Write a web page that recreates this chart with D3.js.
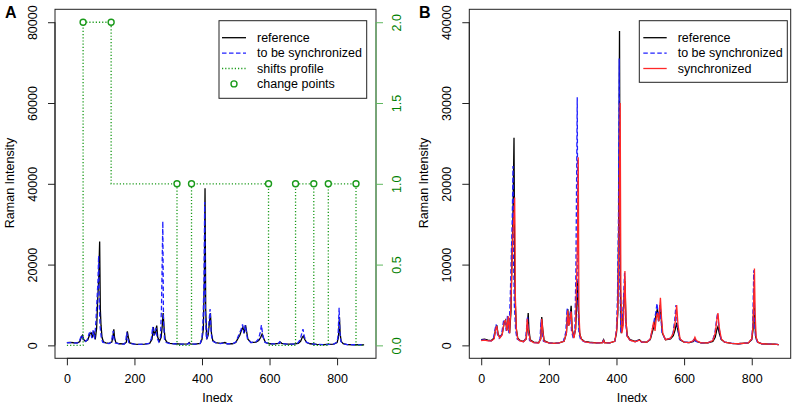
<!DOCTYPE html>
<html>
<head>
<meta charset="utf-8">
<script src="https://cdn.jsdelivr.net/npm/d3@7"></script>
<style>
  body { margin: 0; background: #fff; }
  svg text { font-family: "Liberation Sans", Arial, sans-serif; }
</style>
</head>
<body>
<svg id="chart" width="794" height="406"></svg>
<script>
// spectra: [index, intensity]
const reference = [
  [0,700],[10,760],[20,650],[30,600],[38,900],[43,2100],[46,2500],[50,1400],[55,1000],[62,1400],
  [68,2800],[72,3100],[76,1900],[80,3500],[84,1500],[88,4200],[91,11000],[94,16000],[97,25700],[99,9000],
  [101,5000],[104,2000],[108,900],[115,600],[125,500],[133,800],[136,2000],[139,4000],[141,2000],[145,700],
  [155,400],[170,350],[176,800],[179,3500],[182,2000],[186,600],[200,300],[215,250],[230,300],[245,500],
  [252,1500],[256,4500],[259,2500],[263,3500],[266,4900],[269,2000],[274,1000],[279,2000],[282,4500],[285,8000],
  [288,4000],[291,1500],[296,800],[305,500],[320,400],[340,300],[358,350],[362,700],[365,350],[380,300],
  [395,500],[400,1500],[404,4000],[407,17000],[409,38900],[411,9000],[414,1500],[418,2500],[422,5500],[425,8000],
  [428,3000],[432,1200],[440,700],[455,500],[468,700],[475,400],[490,400],[500,700],[507,1800],[512,2500],
  [517,3800],[521,4500],[525,3000],[529,5000],[532,3500],[536,1500],[545,700],[560,800],[568,1200],[574,2000],
  [578,2800],[582,1800],[588,700],[600,400],[615,350],[628,500],[632,800],[636,500],[650,300],[670,300],
  [685,500],[692,1000],[697,2000],[700,2300],[704,1500],[710,700],[720,400],[740,250],[760,200],[790,300],
  [800,700],[804,2000],[807,7000],[809,3000],[812,1000],[818,400],[830,200],[850,150],[865,150],[880,100]
];
const toSync = [
  [0,650],[10,700],[20,600],[30,550],[36,800],[41,2000],[44,2600],[48,1400],[53,900],[60,1300],
  [66,3000],[70,3200],[74,1800],[78,3800],[82,1500],[86,6000],[89,11000],[92,16000],[94,22200],[96,10000],
  [98,5000],[102,1800],[106,800],[115,550],[125,450],[131,800],[134,2000],[137,3600],[139,1800],[143,600],
  [155,350],[170,300],[174,800],[177,3200],[180,1800],[184,500],[200,300],[215,250],[230,300],[243,500],
  [250,1600],[254,4600],[257,2400],[261,3500],[264,4300],[267,1800],[272,900],[277,2000],[280,9000],[284,30700],
  [286,6000],[289,1500],[294,700],[305,450],[320,350],[340,300],[358,300],[361,600],[364,300],[380,300],
  [395,500],[400,2000],[403,6000],[406,16000],[408,35500],[410,8000],[413,1500],[417,2500],[421,6000],[424,9000],
  [427,3000],[431,1100],[440,650],[455,450],[466,650],[474,400],[490,400],[500,800],[506,2000],[511,3000],
  [516,4000],[520,5200],[524,3000],[528,5000],[531,3500],[535,1500],[545,700],[560,900],[567,1500],[572,3000],
  [576,5000],[580,2500],[586,800],[600,400],[615,350],[626,500],[630,900],[634,500],[650,300],[670,300],
  [684,600],[691,1500],[696,3200],[699,4000],[703,2200],[709,800],[720,400],[740,250],[760,200],[790,300],
  [800,800],[803,2500],[806,9300],[808,3500],[811,1000],[817,400],[830,200],[850,150],[865,150],[880,100]
];
const synced = [
  [0,600],[10,650],[20,550],[30,550],[38,800],[43,2000],[46,2400],[50,1300],[55,900],[62,1300],
  [68,2900],[72,3100],[76,1800],[80,3600],[84,1500],[88,5000],[91,10000],[94,14000],[97,16000],[99,18300],
  [101,6000],[104,2000],[108,800],[115,550],[125,450],[133,800],[136,3300],[139,2000],[141,1500],[145,600],
  [155,350],[170,300],[176,800],[179,3300],[182,1800],[186,500],[200,300],[215,250],[230,300],[245,500],
  [252,1500],[256,4300],[259,2400],[263,3500],[266,4200],[269,1800],[274,900],[279,2000],[282,8000],[285,13500],
  [287,23300],[289,4000],[292,1300],[297,700],[305,450],[320,350],[340,300],[358,300],[362,600],[365,300],
  [380,300],[395,500],[401,2000],[405,6000],[408,16000],[411,30000],[413,7000],[416,1500],[420,2500],[423,6000],
  [425,9200],[428,3000],[432,1100],[440,650],[455,450],[468,650],[475,400],[490,400],[500,800],[506,2000],
  [510,2900],[514,1800],[518,3500],[521,4000],[525,3000],[530,5900],[533,3500],[537,1500],[545,700],[560,900],
  [568,1500],[574,3000],[578,5000],[582,2500],[588,800],[600,400],[615,350],[628,600],[632,1000],[636,600],
  [650,300],[670,300],[685,600],[692,1500],[697,3200],[700,4000],[704,2200],[710,800],[720,400],[740,250],
  [760,200],[790,300],[800,800],[804,2500],[808,9500],[810,4000],[813,1000],[818,400],[830,200],[850,150],
  [865,150],[880,100]
];

// shift profile (right axis of panel A) and its change points
const shiftSteps = [
  [0,0],[48,0],[48,2],[131,2],[131,1],[326,1],[326,0],[369,0],[369,1],[597,1],[597,0],
  [677,0],[677,1],[731,1],[731,0],[774,0],[774,1],[856,1],[856,0],[880,0]
];
const changeIdx = [48, 131, 326, 369, 597, 677, 731, 774, 856];
const changeVal = [2, 2, 1, 1, 1, 1, 1, 1, 1];

const xTicks = [0, 200, 400, 600, 800];
const yTicksA = [0, 20000, 40000, 60000, 80000];
const yTicksB = [0, 10000, 20000, 30000, 40000];
const shiftTicks = [0, 0.5, 1, 1.5, 2];
const legendA = ["reference", "to be synchronized", "shifts profile", "change points"];
const legendB = ["reference", "to be synchronized", "synchronized"];

const GREEN = "#1a9a1a";
const GREEN_TXT = "#008000";
const BLUE = "#2020ff";
const RED = "#ff2828";
const DASH = "4.5,2.5";
const FS = 12.5;
const LW = 1.3;

const svg = d3.select("#chart");
svg.append("rect").attr("width", 794).attr("height", 406).attr("fill", "#fff");

function panel(opt) {
  const g = svg.append("g");
  const x = d3.scaleLinear().domain([-35.2, 915.2]).range([opt.left, opt.right]);
  const y = d3.scaleLinear().domain([-0.04 * opt.ymax, 1.04 * opt.ymax]).range([358.3, 9.3]);

  const line = d3.line().x(d => x(d[0])).y(d => y(d[1]));

  opt.series.forEach(s => {
    g.append("path").datum(s.data)
      .attr("d", line)
      .attr("fill", "none")
      .attr("stroke", s.color)
      .attr("stroke-width", LW)
      .attr("stroke-dasharray", s.dash || null);
  });

  // box
  g.append("rect")
    .attr("x", opt.left).attr("y", 9.3)
    .attr("width", opt.right - opt.left).attr("height", 349)
    .attr("fill", "none").attr("stroke", "#222").attr("stroke-width", 1);

  // x axis
  const xa = g.append("g").attr("transform", "translate(0,358.3)")
    .call(d3.axisBottom(x).tickValues(xTicks).tickSize(7).tickPadding(9));
  xa.select(".domain").attr("d", `M${x(0)},0H${x(800)}`).attr("stroke", "#222");
  xa.selectAll("line").attr("stroke", "#222");
  xa.selectAll("text").attr("font-size", FS).attr("fill", "#000");

  // left y axis with rotated labels
  const ya = g.append("g").attr("transform", `translate(${opt.left},0)`)
    .call(d3.axisLeft(y).tickValues(opt.yTicks).tickSize(7).tickFormat(d3.format("d")));
  ya.select(".domain").attr("d", `M0,${y(0)}V${y(opt.ymax)}`).attr("stroke", "#222");
  ya.selectAll("line").attr("stroke", "#222");
  ya.selectAll("text")
    .attr("font-size", FS).attr("fill", "#000")
    .attr("x", null).attr("dy", null)
    .attr("text-anchor", "middle")
    .attr("transform", "translate(-22,0) rotate(-90)")
    .attr("dominant-baseline", "central");

  g.append("text")
    .attr("transform", `translate(${opt.left - 45},183) rotate(-90)`)
    .attr("text-anchor", "middle").attr("font-size", FS)
    .attr("dominant-baseline", "central")
    .text("Raman Intensity");
  g.append("text")
    .attr("x", (x(0) + x(880)) / 2 + 2).attr("y", 402)
    .attr("text-anchor", "middle").attr("font-size", FS)
    .text("Inedx");
  g.append("text")
    .attr("x", opt.labelX).attr("y", 18)
    .attr("font-size", 16).attr("font-weight", "bold")
    .text(opt.label);

  return { g, x, y };
}

// ---- panel A ----
const A = panel({
  left: 55, right: 376, ymax: 80000, yTicks: yTicksA, label: "A", labelX: 5,
  series: [
    { data: reference, color: "#000" },
    { data: toSync, color: BLUE, dash: DASH }
  ]
});

const ys = d3.scaleLinear().domain([-0.08, 2.08]).range([358.3, 9.3]);
const shiftLine = d3.line().x(d => A.x(d[0])).y(d => ys(d[1]));
A.g.append("path").datum(shiftSteps)
  .attr("d", shiftLine).attr("fill", "none")
  .attr("stroke", GREEN).attr("stroke-width", LW).attr("stroke-dasharray", "1.2,2");
A.g.selectAll("circle.cp").data(changeIdx).join("circle")
  .attr("class", "cp")
  .attr("cx", d => A.x(d)).attr("cy", (d, i) => ys(changeVal[i]))
  .attr("r", 3).attr("fill", "#fff").attr("stroke", GREEN).attr("stroke-width", 1.4);

const ra = A.g.append("g").attr("transform", "translate(376,0)")
  .call(d3.axisRight(ys).tickValues(shiftTicks).tickSize(7).tickFormat(d3.format(".1f")));
ra.select(".domain").attr("d", `M0,${ys(0)}V${ys(2)}`).attr("stroke", "#5fb85f");
ra.selectAll("line").attr("stroke", "#5fb85f");
ra.selectAll("text")
  .attr("font-size", FS).attr("fill", GREEN_TXT)
  .attr("x", null).attr("dy", null)
  .attr("text-anchor", "middle")
  .attr("transform", "translate(21,0) rotate(-90)")
  .attr("dominant-baseline", "central");

// legend A
const lgA = A.g.append("g");
lgA.append("rect").attr("x", 219).attr("y", 20.7).attr("width", 147.7).attr("height", 77.6)
  .attr("fill", "#fff").attr("stroke", "#222");
const styleA = [
  { color: "#000" }, { color: BLUE, dash: DASH }, { color: GREEN, dash: "1.2,2" }, { point: true }
];
legendA.forEach((t, i) => {
  const yy = 37.7 + i * 15.4;
  if (styleA[i].point) {
    lgA.append("circle").attr("cx", 234).attr("cy", yy).attr("r", 3)
      .attr("fill", "#fff").attr("stroke", GREEN).attr("stroke-width", 1.4);
  } else {
    lgA.append("line").attr("x1", 222).attr("x2", 246).attr("y1", yy).attr("y2", yy)
      .attr("stroke", styleA[i].color).attr("stroke-width", LW)
      .attr("stroke-dasharray", styleA[i].dash || null);
  }
  lgA.append("text").attr("x", 257).attr("y", yy).attr("dominant-baseline", "central")
    .attr("font-size", FS).text(t);
});

// ---- panel B ----
const B = panel({
  left: 469.3, right: 790.7, ymax: 40000, yTicks: yTicksB, label: "B", labelX: 419,
  series: [
    { data: reference, color: "#000" },
    { data: toSync, color: BLUE, dash: DASH },
    { data: synced, color: RED }
  ]
});
const lgB = B.g.append("g");
lgB.append("rect").attr("x", 639.3).attr("y", 20.7).attr("width", 148).attr("height", 61.6)
  .attr("fill", "#fff").attr("stroke", "#222");
const styleB = [{ color: "#000" }, { color: BLUE, dash: DASH }, { color: RED }];
legendB.forEach((t, i) => {
  const yy = 37.7 + i * 15.4;
  lgB.append("line").attr("x1", 643.3).attr("x2", 666.7).attr("y1", yy).attr("y2", yy)
    .attr("stroke", styleB[i].color).attr("stroke-width", LW)
    .attr("stroke-dasharray", styleB[i].dash || null);
  lgB.append("text").attr("x", 677.7).attr("y", yy).attr("dominant-baseline", "central")
    .attr("font-size", FS).text(t);
});
</script>
</body>
</html>
